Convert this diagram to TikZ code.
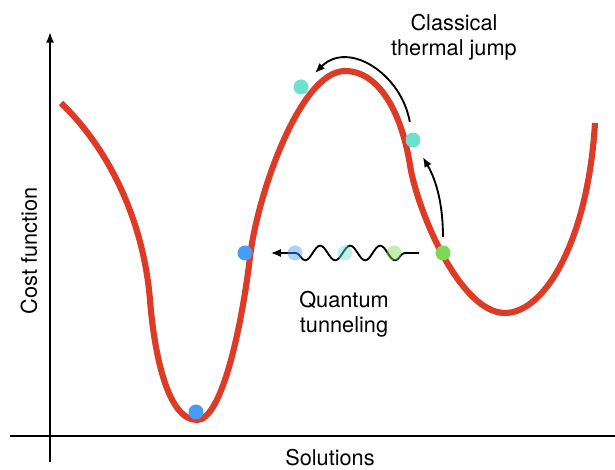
\documentclass[tikz,border=0pt]{standalone}
\usepackage{fontspec}
\setmainfont{TeX Gyre Heros}
\usepackage{xcolor}
\usepackage{tikz}
\usetikzlibrary{arrows.meta,decorations.pathmorphing}
\definecolor{costred}{HTML}{DE3B26}
\definecolor{qblue}{HTML}{479CF5}
\definecolor{qteal}{HTML}{6CE1D0}
\definecolor{qgreen}{HTML}{7DD855}
\tikzset{
  axis/.style={line width=1.5pt,draw=black},
  landscape/.style={draw=costred,line width=4.6pt},
  ball/.style={circle,inner sep=0pt,minimum size=11.25pt,draw=none},
  ghost/.style={ball,fill opacity=0.45},             % where the state passes through the wall
  jump/.style={-{Latex[length=7.5pt,width=6pt]},line width=1.4pt},
  tunnel/.style={jump,decorate,decoration={snake,segment length=22.5pt,
    amplitude=5.5pt,pre length=23pt,post length=23pt}},
  lbl/.style={font=\fontsize{16.3}{18.8}\selectfont,align=center,inner sep=0pt},
}

\begin{document}
\begin{tikzpicture}[x=0.75pt,y=-0.75pt]
  \useasboundingbox (0,0) rectangle (615,470);
  % axes
  \coordinate (ybot) at (50,462);
  \coordinate (ytop) at (50,32);
  \coordinate (xl) at (10,436);
  \coordinate (xr) at (615,436);
  \draw[axis,-{Latex[length=8pt,width=6pt]}] (ybot) -- (ytop);
  \draw[axis] (xl) -- (xr);
  \node[lbl,rotate=90] (ylab) at (29,251) {Cost function};
  \node[lbl] (xlab) at (330,458) {Solutions};
  % cost landscape: two wells and a barrier
  \draw[landscape] (61,103)
    .. controls (105,145) and (143,215) .. (150,300)
    .. controls (154,351) and (167,420) .. (197,420)
    .. controls (222,420) and (242,325) .. (250,257)
    .. controls (257,196) and (300,71) .. (345,71)
    .. controls (380,71) and (402,115) .. (410,165)
    .. controls (417,210) and (460,313) .. (505,313)
    .. controls (545,313) and (588,240) .. (595,123);
  % states
  \node[ball,fill=qblue] (gmin) at (196,412) {};
  \node[ball,fill=qblue] (bl) at (245,253) {};
  \node[ball,fill=qgreen] (g) at (443,253) {};
  \node[ball,fill=qteal] (t1) at (413,140) {};
  \node[ball,fill=qteal] (t2) at (301,87) {};
  % quantum route
  \draw[tunnel,shorten <=12pt,shorten >=13.5pt] (g) -- (bl);
  \node[ghost,fill=qblue] (gh1) at (295,253) {};
  \node[ghost,fill=qteal] (gh2) at (345,253) {};
  \node[ghost,fill=qgreen] (gh3) at (394,253) {};
  % classical route
  \draw[jump,shorten <=6pt,shorten >=9pt] (g) to[out=90,in=-60] (t1);
  \draw[jump,shorten <=8pt,shorten >=9pt] (t1) to[out=100,in=45,looseness=1.3] (t2);
  \node[lbl] (clab) at (454,37) {Classical\\thermal jump};
  \node[lbl] (qlab) at (344,314) {Quantum\\tunneling};
\end{tikzpicture}
\end{document}
